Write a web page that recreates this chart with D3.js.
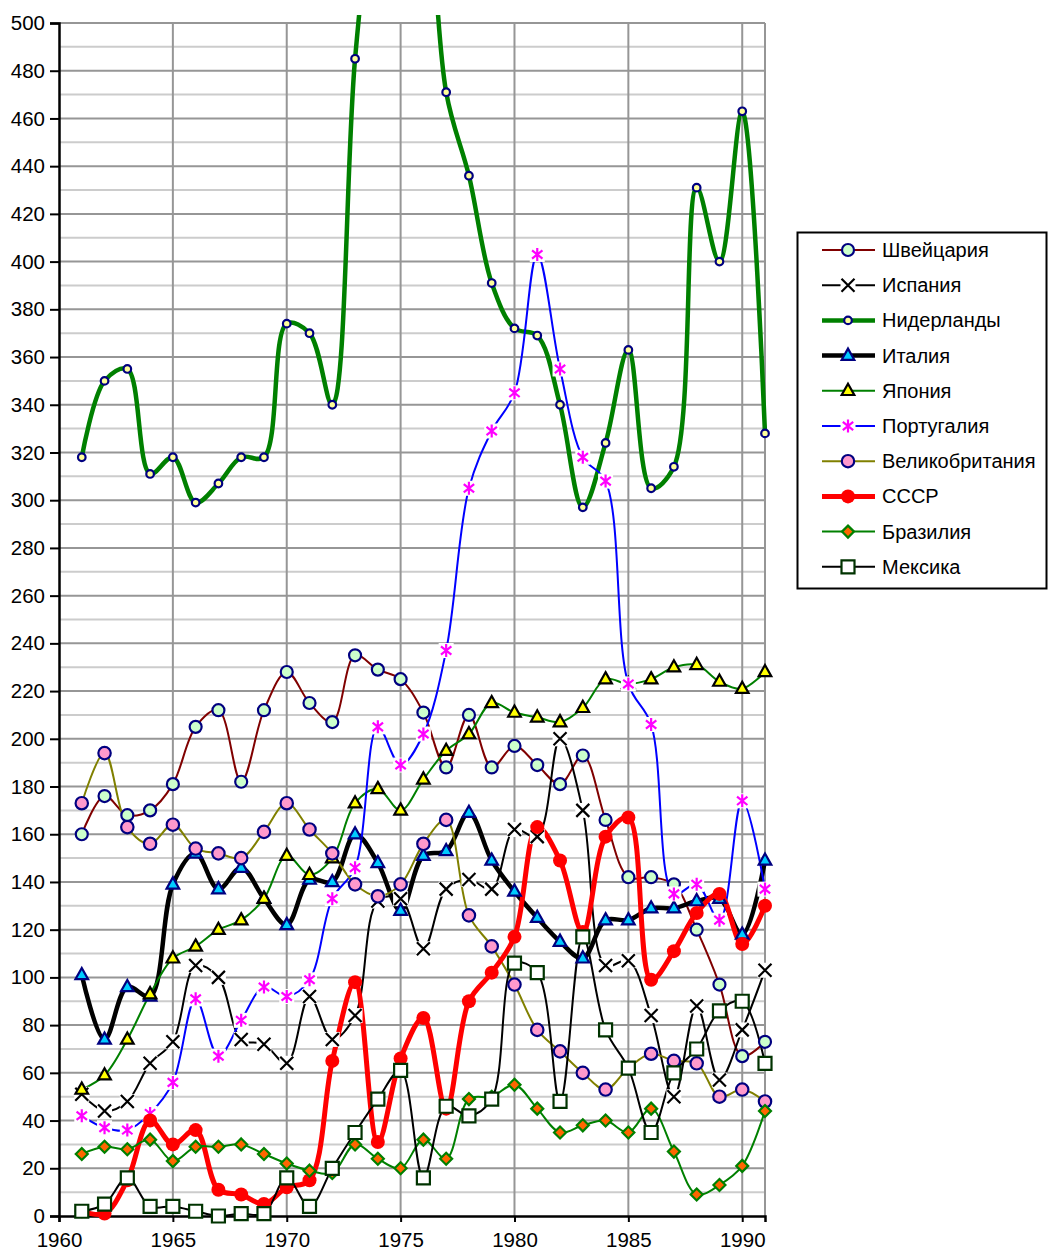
<!DOCTYPE html>
<html>
<head>
<meta charset="utf-8">
<script src="https://cdn.jsdelivr.net/npm/d3@7"></script>
<style>
  body { margin: 0; background: #fff; }
  text { font-family: "Liberation Sans", Arial, sans-serif; }
</style>
</head>
<body>
<div id="chart"></div>
<script>
// years 1961..1991
const years = [1961,1962,1963,1964,1965,1966,1967,1968,1969,1970,1971,1972,1973,1974,1975,1976,
  1977,1978,1979,1980,1981,1982,1983,1984,1985,1986,1987,1988,1989,1990,1991];

const swiss       = [160,176,168,170,181,205,212,182,212,228,215,207,235,229,225,211,188,210,188,197,189,181,193,166,142,142,139,120,97,67,73];
const spain       = [51,44,48,64,73,105,100,74,72,64,92,74,84,132,133,112,137,141,137,162,159,200,170,105,107,84,50,88,57,78,103];
const netherlands = [318,350,355,311,318,299,307,318,318,374,370,340,485,570,620,580,471,436,391,372,369,340,297,324,363,305,314,431,400,463,328];
const italy       = [101,74,96,92,139,152,137,146,133,122,141,140,160,148,128,151,153,169,149,136,125,115,108,124,124,129,129,132,133,118,149];
const japan       = [53,59,74,93,108,113,120,124,133,151,143,150,173,179,170,183,195,202,215,211,209,207,213,225,223,225,230,231,224,221,228];
const portugal    = [42,37,36,43,56,91,67,82,96,92,99,133,146,205,189,202,237,305,329,345,403,355,318,308,223,206,135,139,124,174,137];
const uk          = [173,194,163,156,164,154,152,150,161,173,162,152,139,134,139,156,166,126,113,97,78,69,60,53,62,68,65,64,50,53,48];
const ussr        = [2,1,15,40,30,36,11,9,5,12,15,65,98,31,66,83,45,90,102,117,163,149,119,159,167,99,111,127,135,114,130];
const brazil      = [26,29,28,32,23,29,29,30,26,22,19,18,30,24,20,32,24,49,50,55,45,35,38,40,35,45,27,9,13,21,44];
const mexico      = [2,5,16,4,4,2,0,1,1,16,4,20,35,49,61,16,46,42,49,106,102,48,117,78,62,35,60,70,86,90,64];

const xTicks = [1960,1965,1970,1975,1980,1985,1990];
const yTicks = [0,20,40,60,80,100,120,140,160,180,200,220,240,260,280,300,320,340,360,380,400,420,440,460,480,500];

const series = [
  {name: "Швейцария",      values: swiss,       line: "#800000", lw: 2,   marker: "circle",   r: 6,   fill: "#ccffcc", stroke: "#000080"},
  {name: "Испания",        values: spain,       line: "#000000", lw: 2,   marker: "x",        r: 6.5, fill: "none",    stroke: "#000000"},
  {name: "Нидерланды",     values: netherlands, line: "#008000", lw: 4.5, marker: "circle",   r: 3.8, fill: "#ffff99", stroke: "#000080"},
  {name: "Италия",         values: italy,       line: "#000000", lw: 4.5, marker: "triangle", r: 7,   fill: "#00ccff", stroke: "#000080"},
  {name: "Япония",         values: japan,       line: "#008000", lw: 2,   marker: "triangle", r: 7,   fill: "#ffff00", stroke: "#000000"},
  {name: "Португалия",     values: portugal,    line: "#0000ff", lw: 2,   marker: "star",     r: 6.5, fill: "none",    stroke: "#ff00ff"},
  {name: "Великобритания", values: uk,          line: "#808000", lw: 2,   marker: "circle",   r: 6.2, fill: "#ff99cc", stroke: "#000080"},
  {name: "СССР",           values: ussr,        line: "#ff0000", lw: 5,   marker: "dot",      r: 7,   fill: "#ff0000", stroke: "#ff0000"},
  {name: "Бразилия",       values: brazil,      line: "#008000", lw: 2,   marker: "diamond",  r: 6,   fill: "#ff6600", stroke: "#008000"},
  {name: "Мексика",        values: mexico,      line: "#000000", lw: 2,   marker: "square",   r: 6.5, fill: "#ffffff", stroke: "#003300"}
];

const width = 1049, height = 1253;
const x = d3.scaleLinear().domain([1960, 1991]).range([59, 765]);
const y = d3.scaleLinear().domain([0, 500]).range([1216, 23]);

const svg = d3.select("#chart").append("svg")
  .attr("width", width)
  .attr("height", height);

// lines that run off the top stop a little above the plot area
svg.append("defs").append("clipPath").attr("id", "plot")
  .append("rect")
  .attr("x", 0).attr("y", y(500) - 8)
  .attr("width", width).attr("height", height);

// grid: minor lines every 10, major every 20, verticals every 5 years
const grid = svg.append("g");
grid.selectAll(".minor")
  .data(d3.range(10, 500, 20))
  .enter().append("line")
  .attr("x1", x(1960)).attr("x2", x(1991))
  .attr("y1", d => y(d)).attr("y2", d => y(d))
  .style("stroke", "#cccccc").style("stroke-width", 2);
grid.selectAll(".major")
  .data(yTicks.slice(1))
  .enter().append("line")
  .attr("x1", x(1960)).attr("x2", x(1991))
  .attr("y1", d => y(d)).attr("y2", d => y(d))
  .style("stroke", "#969696").style("stroke-width", 2);
grid.selectAll(".vert")
  .data(xTicks.slice(1).concat([1991]))
  .enter().append("line")
  .attr("x1", d => x(d)).attr("x2", d => x(d))
  .attr("y1", y(0)).attr("y2", y(500))
  .style("stroke", "#969696").style("stroke-width", 2);

// axes
const yAxis = svg.append("g")
  .attr("transform", `translate(${x(1960)},0)`)
  .call(d3.axisLeft(y).tickValues(yTicks).tickSize(9).tickPadding(5));
const xAxis = svg.append("g")
  .attr("transform", `translate(0,${y(0)})`)
  .call(d3.axisBottom(x).tickValues(xTicks).tickFormat(d3.format("d")).tickSize(6).tickPadding(10));
[yAxis, xAxis].forEach(a => {
  a.select(".domain").style("stroke", "#000").style("stroke-width", 2.5);
  a.selectAll(".tick line").style("stroke", "#000").style("stroke-width", 2);
  a.selectAll("text").style("font-size", "20.5px").style("fill", "#000")
    .style("font-family", "'Liberation Sans', Arial, sans-serif");
});

function markerPath(type, r) {
  if (type === "x") {
    return `M${-r},${-r}L${r},${r}M${-r},${r}L${r},${-r}`;
  }
  if (type === "star") {
    const d = r * 0.8;
    return `M0,${-r}L0,${r}M${-d},${-d * 0.8}L${d},${d * 0.8}M${-d},${d * 0.8}L${d},${-d * 0.8}`;
  }
  if (type === "triangle") {
    return `M0,${-r}L${r * 0.9},${r * 0.6}L${-r * 0.9},${r * 0.6}Z`;
  }
  if (type === "square") {
    return `M${-r},${-r}H${r}V${r}H${-r}Z`;
  }
  if (type === "diamond") {
    return `M0,${-r}L${r},0L0,${r}L${-r},0Z`;
  }
  // circle / dot
  return `M${r},0A${r},${r} 0 1,1 ${-r},0A${r},${r} 0 1,1 ${r},0Z`;
}

function drawMarker(g, s) {
  if (s.marker === "x" || s.marker === "star") {
    g.append("rect")
      .attr("x", -s.r - 1).attr("y", -s.r - 1)
      .attr("width", 2 * s.r + 2).attr("height", 2 * s.r + 2)
      .style("fill", "#fff");
  }
  g.append("path")
    .attr("d", markerPath(s.marker, s.r))
    .style("fill", s.fill)
    .style("stroke", s.stroke)
    .style("stroke-width", s.marker === "dot" ? 0 : 2.2);
}

const line = d3.line()
  .x((d, i) => x(years[i]))
  .y(d => y(d))
  .curve(d3.curveCatmullRom.alpha(0.5));

const plot = svg.append("g").attr("clip-path", "url(#plot)");

series.forEach(s => {
  plot.append("path")
    .attr("d", line(s.values))
    .style("fill", "none")
    .style("stroke", s.line)
    .style("stroke-width", s.lw)
    .style("stroke-linejoin", "round");
});

const marks = svg.append("g");
series.forEach(s => {
  s.values.forEach((v, i) => {
    if (v > 500) return;
    const g = marks.append("g").attr("transform", `translate(${x(years[i])},${y(v)})`);
    drawMarker(g, s);
  });
});

// legend
const legend = svg.append("g");
legend.append("rect")
  .attr("x", 797.5).attr("y", 232.5)
  .attr("width", 249).attr("height", 356)
  .style("fill", "#fff").style("stroke", "#000").style("stroke-width", 2);

series.forEach((s, i) => {
  const ly = 250 + i * 35.2;
  legend.append("line")
    .attr("x1", 822).attr("x2", 875)
    .attr("y1", ly).attr("y2", ly)
    .style("stroke", s.line).style("stroke-width", s.lw);
  const g = legend.append("g").attr("transform", `translate(848,${ly})`);
  drawMarker(g, s);
  legend.append("text")
    .attr("x", 882).attr("y", ly + 7)
    .style("font-size", "20px")
    .text(s.name);
});
</script>
</body>
</html>
